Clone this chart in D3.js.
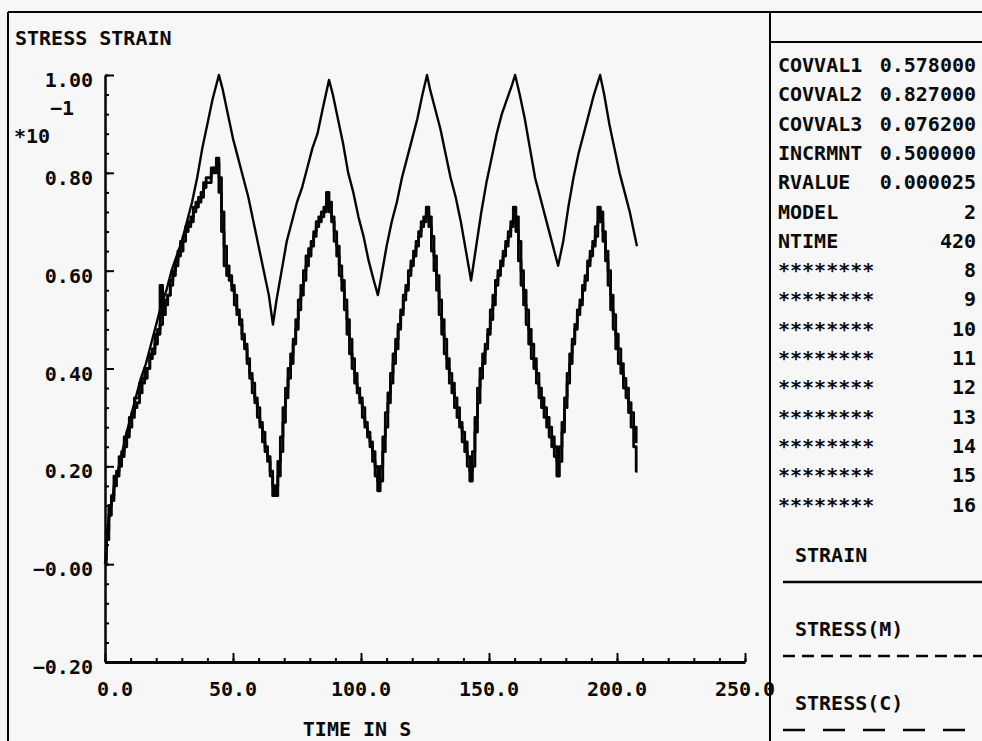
<!DOCTYPE html>
<html>
<head>
<meta charset="utf-8">
<script src="https://cdn.jsdelivr.net/npm/d3@7"></script>
<style>
  body { margin: 0; background: #f7f7f7; }
  svg { display: block; }
  text { font-family: "DejaVu Sans Mono", monospace; font-weight: bold; font-size: 20px; fill: #0a0a0a; }
</style>
</head>
<body>
<div id="chart"></div>
<script>
// strain (solid), time in s / value in units of 10^-1
const strainTime = [0, 1, 2, 4, 6, 8, 10, 12, 14, 16, 18, 20, 22, 24, 26, 28, 30, 32, 34, 36, 38, 40, 42, 44.5,
  46, 48, 50, 52, 54, 56, 58, 60, 62, 64, 65.6,
  67, 69, 71, 73, 75, 77, 79, 81, 83, 85, 87.5,
  89, 91, 93, 95, 97, 99, 101, 103, 105, 106.6,
  108, 110, 112, 114, 116, 118, 120, 122, 124, 125.8,
  127, 129, 131, 133, 135, 137, 139, 141, 143,
  145, 147, 149, 151, 153, 155, 157, 159, 160.2,
  162, 164, 166, 168, 170, 172, 174, 176, 177,
  179, 181, 183, 185, 187, 189, 191, 193.4,
  195, 197, 199, 201, 203, 205, 207, 207.8];
const strainValues = [0.00, 0.07, 0.11, 0.17, 0.21, 0.26, 0.30, 0.34, 0.38, 0.41, 0.45, 0.49, 0.53, 0.56, 0.60, 0.63, 0.66, 0.70, 0.74, 0.79, 0.85, 0.90, 0.95, 1.00,
  0.97, 0.92, 0.87, 0.83, 0.79, 0.75, 0.70, 0.65, 0.60, 0.55, 0.49,
  0.54, 0.60, 0.66, 0.70, 0.74, 0.77, 0.81, 0.85, 0.88, 0.93, 0.99,
  0.96, 0.91, 0.86, 0.80, 0.76, 0.71, 0.67, 0.62, 0.58, 0.55,
  0.59, 0.65, 0.70, 0.74, 0.79, 0.83, 0.87, 0.91, 0.96, 1.00,
  0.97, 0.93, 0.89, 0.84, 0.79, 0.75, 0.70, 0.64, 0.58,
  0.65, 0.72, 0.78, 0.83, 0.88, 0.92, 0.95, 0.98, 1.00,
  0.96, 0.91, 0.85, 0.79, 0.75, 0.71, 0.67, 0.63, 0.61,
  0.66, 0.73, 0.79, 0.84, 0.88, 0.92, 0.96, 1.00,
  0.96, 0.90, 0.85, 0.80, 0.76, 0.72, 0.67, 0.65];

// stress curves sampled every second, 0 .. 208 s
const stressTime = d3.range(0, 209);
const stressM = [0.00, 0.07, 0.12, 0.14, 0.18, 0.19, 0.22, 0.23, 0.26, 0.27,
  0.30, 0.31, 0.34, 0.34, 0.37, 0.38, 0.40, 0.40, 0.43, 0.44,
  0.47, 0.48, 0.57, 0.51, 0.54, 0.55, 0.58, 0.60, 0.62, 0.64,
  0.66, 0.67, 0.69, 0.70, 0.71, 0.73, 0.74, 0.75, 0.76, 0.78,
  0.79, 0.79, 0.81, 0.80, 0.83, 0.76, 0.68, 0.61, 0.59, 0.58,
  0.56, 0.53, 0.51, 0.49, 0.46, 0.44, 0.41, 0.38, 0.35, 0.33,
  0.30, 0.28, 0.25, 0.23, 0.21, 0.18, 0.14, 0.16, 0.21, 0.26,
  0.32, 0.36, 0.40, 0.43, 0.46, 0.50, 0.54, 0.57, 0.60, 0.63,
  0.645, 0.66, 0.68, 0.70, 0.71, 0.72, 0.73, 0.76, 0.72, 0.70,
  0.66, 0.63, 0.59, 0.56, 0.52, 0.47, 0.43, 0.40, 0.37, 0.35,
  0.33, 0.30, 0.28, 0.26, 0.24, 0.21, 0.18, 0.15, 0.20, 0.26,
  0.31, 0.35, 0.39, 0.43, 0.46, 0.49, 0.52, 0.55, 0.57, 0.60,
  0.62, 0.64, 0.66, 0.68, 0.70, 0.71, 0.73, 0.69, 0.64, 0.60,
  0.56, 0.51, 0.47, 0.43, 0.40, 0.37, 0.35, 0.32, 0.30, 0.28,
  0.25, 0.23, 0.20, 0.17, 0.23, 0.30, 0.36, 0.40, 0.43, 0.45,
  0.48, 0.52, 0.55, 0.58, 0.60, 0.62, 0.64, 0.66, 0.68, 0.70,
  0.73, 0.68, 0.62, 0.57, 0.53, 0.49, 0.45, 0.42, 0.40, 0.37,
  0.34, 0.32, 0.30, 0.28, 0.26, 0.24, 0.22, 0.18, 0.24, 0.29,
  0.34, 0.39, 0.43, 0.46, 0.49, 0.52, 0.54, 0.57, 0.59, 0.62,
  0.64, 0.66, 0.69, 0.73, 0.70, 0.66, 0.62, 0.57, 0.52, 0.48,
  0.44, 0.41, 0.39, 0.36, 0.34, 0.31, 0.28, 0.24, 0.19];
const stressC = [0.01, 0.05, 0.10, 0.13, 0.16, 0.18, 0.20, 0.22, 0.24, 0.26,
  0.28, 0.30, 0.32, 0.33, 0.35, 0.37, 0.38, 0.40, 0.42, 0.43,
  0.45, 0.47, 0.49, 0.51, 0.53, 0.55, 0.57, 0.59, 0.61, 0.63,
  0.64, 0.66, 0.68, 0.69, 0.70, 0.72, 0.73, 0.74, 0.75, 0.77,
  0.78, 0.78, 0.80, 0.81, 0.82, 0.79, 0.72, 0.65, 0.61, 0.59,
  0.57, 0.55, 0.52, 0.50, 0.47, 0.45, 0.42, 0.39, 0.37, 0.34,
  0.32, 0.29, 0.27, 0.24, 0.22, 0.19, 0.16, 0.14, 0.18, 0.23,
  0.29, 0.34, 0.38, 0.41, 0.45, 0.48, 0.52, 0.55, 0.58, 0.61,
  0.63, 0.65, 0.67, 0.69, 0.70, 0.71, 0.72, 0.73, 0.74, 0.71,
  0.68, 0.65, 0.61, 0.58, 0.54, 0.50, 0.46, 0.42, 0.39, 0.36,
  0.34, 0.32, 0.29, 0.27, 0.25, 0.23, 0.20, 0.17, 0.17, 0.23,
  0.28, 0.33, 0.37, 0.41, 0.44, 0.48, 0.51, 0.54, 0.56, 0.59,
  0.61, 0.63, 0.65, 0.67, 0.69, 0.70, 0.72, 0.71, 0.67, 0.63,
  0.59, 0.54, 0.50, 0.46, 0.42, 0.39, 0.37, 0.34, 0.32, 0.29,
  0.27, 0.25, 0.22, 0.19, 0.20, 0.27, 0.33, 0.38, 0.41, 0.44,
  0.47, 0.50, 0.53, 0.57, 0.59, 0.61, 0.63, 0.65, 0.67, 0.69,
  0.71, 0.71, 0.66, 0.60, 0.56, 0.52, 0.48, 0.45, 0.42, 0.39,
  0.36, 0.34, 0.32, 0.30, 0.28, 0.26, 0.24, 0.21, 0.21, 0.27,
  0.32, 0.37, 0.41, 0.45, 0.48, 0.51, 0.53, 0.56, 0.58, 0.61,
  0.63, 0.65, 0.67, 0.70, 0.72, 0.68, 0.64, 0.60, 0.55, 0.51,
  0.47, 0.44, 0.41, 0.38, 0.36, 0.33, 0.31, 0.28, 0.25];

const xTicks = [0, 50, 100, 150, 200, 250];
const xTickLabels = ["0.0", "50.0", "100.0", "150.0", "200.0", "250.0"];
const yTicks = [-0.2, 0, 0.2, 0.4, 0.6, 0.8, 1.0];
const yTickLabels = ["\u22120.20", "\u22120.00", "0.20", "0.40", "0.60", "0.80", "1.00"];

const paramNames = ["COVVAL1", "COVVAL2", "COVVAL3", "INCRMNT", "RVALUE", "MODEL", "NTIME",
  "********", "********", "********", "********", "********", "********", "********", "********", "********"];
const paramValues = ["0.578000", "0.827000", "0.076200", "0.500000", "0.000025", "2", "420",
  "8", "9", "10", "11", "12", "13", "14", "15", "16"];
const legendNames = ["STRAIN", "STRESS(M)", "STRESS(C)"];
const legendDash = ["none", "12,7", "22,18"];

const width = 982, height = 741;
const ink = "#050505";

const svg = d3.select("#chart").append("svg")
  .attr("width", width)
  .attr("height", height);

svg.append("rect").attr("width", width).attr("height", height).attr("fill", "#f7f7f7");

// frame of the plotter page
const frame = svg.append("g").attr("stroke", ink).attr("stroke-width", 2).attr("fill", "none");
frame.append("path").attr("d", "M8,12 H982 M8,12 V741 M770,12 V741 M770,42 H982");

const x = d3.scaleLinear().domain([0, 250]).range([105, 745]);
const y = d3.scaleLinear().domain([-0.2, 1.0]).range([662, 75]);

// y axis: ticks point into the plot
const yAxis = svg.append("g").attr("transform", "translate(105,0)").style("color", ink);
yAxis.call(d3.axisRight(y).tickValues(d3.range(-0.2, 1.001, 0.04)).tickSize(4).tickSizeOuter(0).tickFormat(""));
yAxis.call(g => g.selectAll(".tick line").attr("stroke-width", 2));
yAxis.append("g").call(d3.axisRight(y).tickValues(yTicks).tickSize(9).tickSizeOuter(0).tickFormat(""))
  .call(g => g.select(".domain").remove())
  .call(g => g.selectAll(".tick line").attr("stroke-width", 2));
yAxis.select(".domain").attr("stroke-width", 2.5);

svg.append("g").selectAll("text").data(yTicks).join("text")
  .attr("x", 93)
  .attr("y", d => y(d) + 12)
  .attr("text-anchor", "end")
  .text((d, i) => yTickLabels[i]);

// x axis: ticks point up into the plot
const xAxis = svg.append("g").attr("transform", "translate(0,662)").style("color", ink);
xAxis.call(d3.axisTop(x).tickValues(d3.range(0, 251, 10)).tickSize(4).tickSizeOuter(0).tickFormat(""));
xAxis.call(g => g.selectAll(".tick line").attr("stroke-width", 2));
xAxis.append("g").call(d3.axisTop(x).tickValues(xTicks).tickSize(9).tickSizeOuter(0).tickFormat(""))
  .call(g => g.select(".domain").remove())
  .call(g => g.selectAll(".tick line").attr("stroke-width", 2));
xAxis.select(".domain").attr("stroke-width", 3);

svg.append("g").selectAll("text").data(xTicks).join("text")
  .attr("x", d => x(d) + (d === 0 ? 10 : 0))
  .attr("y", 696)
  .attr("text-anchor", "middle")
  .text((d, i) => xTickLabels[i]);

svg.append("text").attr("x", 357).attr("y", 736).attr("text-anchor", "middle").text("TIME IN S");
svg.append("text").attr("x", 15).attr("y", 45).text("STRESS STRAIN");
svg.append("text").attr("x", 74).attr("y", 115).attr("text-anchor", "end").text("\u22121");
svg.append("text").attr("x", 14).attr("y", 143).text("*10");

// curves
const smooth = d3.line().x(d => x(d[0])).y(d => y(d[1]));
const jagged = d3.line().curve(d3.curveStep).x(d => x(d[0])).y(d => y(d[1]));

const curves = svg.append("g").attr("fill", "none").attr("stroke", ink).attr("stroke-linejoin", "round");
curves.append("path")
  .attr("d", jagged(stressTime.map((t, i) => [t, stressC[i]])))
  .attr("stroke-width", 2.8);
curves.append("path")
  .attr("d", jagged(stressTime.map((t, i) => [t, stressM[i]])))
  .attr("stroke-width", 2.8);
curves.append("path")
  .attr("d", smooth(strainTime.map((t, i) => [t, strainValues[i]])))
  .attr("stroke-width", 2.4);

// parameter table
const table = svg.append("g");
table.selectAll("text.name").data(paramNames).join("text")
  .attr("class", "name")
  .attr("x", 778)
  .attr("y", (d, i) => 72 + i * 29.3)
  .text(d => d);
table.selectAll("text.val").data(paramValues).join("text")
  .attr("class", "val")
  .attr("x", 976)
  .attr("y", (d, i) => 72 + i * 29.3)
  .attr("text-anchor", "end")
  .text(d => d);

// legend
const legend = svg.append("g");
legendNames.forEach((name, i) => {
  const top = 555 + i * 74;
  legend.append("text").attr("x", 795).attr("y", top + 7).text(name);
  legend.append("line")
    .attr("x1", 783).attr("x2", 982)
    .attr("y1", top + 27).attr("y2", top + 27)
    .attr("stroke", ink).attr("stroke-width", 2.5)
    .attr("stroke-dasharray", legendDash[i]);
});
</script>
</body>
</html>
